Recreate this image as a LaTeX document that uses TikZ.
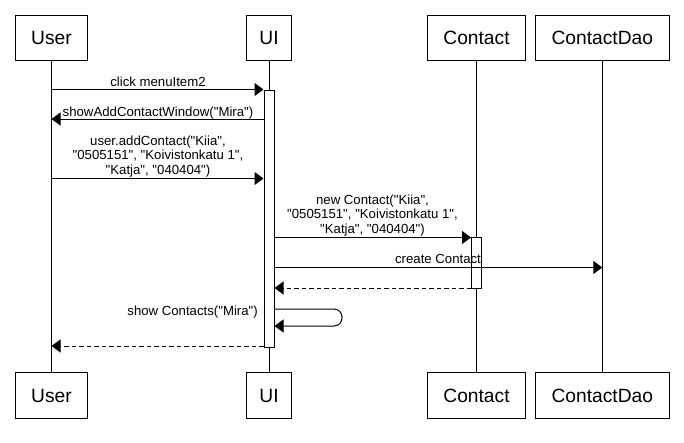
\documentclass[tikz,border=0pt]{standalone}
\usepackage{fontspec}
\setmainfont{Liberation Sans}[Ligatures=TeXOff]
\usetikzlibrary{arrows.meta}
\begin{document}
\begin{tikzpicture}[x=1pt,y=-1pt,
  lifebox/.style={draw=black, line width=1pt, fill=white, minimum height=45.5pt,
    inner sep=0pt, font=\fontsize{19.2}{23}\selectfont},
  lifeline/.style={line width=1pt},
  actbox/.style={draw=black, line width=1pt, fill=white, minimum width=10pt,
    inner sep=0pt, anchor=north},
  msg/.style={line width=1pt, -{Triangle[length=9pt,width=13pt]}},
  reply/.style={msg, dash pattern=on 4.5pt off 3pt},
  lbl/.style={font=\fontsize{13.2}{14.7}\selectfont, inner sep=0pt, align=center}
]
\useasboundingbox (0,0) rectangle (684,442);

% participant heads
\node[lifebox, minimum width=71.6pt] (uT) at (51.5,37.9) {User};
\node[lifebox, minimum width=45pt]   (iT) at (269,37.9) {UI};
\node[lifebox, minimum width=98.4pt] (cT) at (476.5,37.9) {Contact};
\node[lifebox, minimum width=134pt]  (dT) at (602.3,37.9) {ContactDao};

% participant feet
\node[lifebox, minimum width=71.6pt] (uB) at (51.5,395.5) {User};
\node[lifebox, minimum width=45pt]   (iB) at (269,395.5) {UI};
\node[lifebox, minimum width=98.4pt] (cB) at (476.5,395.5) {Contact};
\node[lifebox, minimum width=134pt]  (dB) at (602.3,395.5) {ContactDao};

% lifelines
\draw[lifeline] (uT) -- (uB);
\draw[lifeline] (iT) -- (iB);
\draw[lifeline] (cT) -- (cB);
\draw[lifeline] (dT) -- (dB);

% activation bars
\node[actbox, minimum height=257pt] (a1) at (iT.south |- 0,90) {};
\node[actbox, minimum height=51pt]  (a2) at (cT.south |- 0,237) {};

% messages
\draw[msg] (uT.south |- 0,89.5) -- (a1.west |- 0,89.5);
\node[lbl, anchor=base] (l1) at (158,86) {click menuItem2};

\draw[msg] (a1.west |- 0,119) -- (uT.south |- 0,119);
\node[lbl, anchor=base] (l2) at (158,116) {showAddContactWindow("Mira")};

\draw[msg] (uT.south |- 0,178.5) -- (a1.west |- 0,178.5);
\node[lbl, anchor=south] (l3) at (158,177.5)
  {user.addContact("Kiia",\\"0505151", "Koivistonkatu 1",\\"Katja", "040404")};

\draw[msg] (a1.east |- 0,237.5) -- (a2.west |- 0,237.5);
\node[lbl, anchor=south] (l4) at (372.5,236.5)
  {new Contact("Kiia",\\"0505151", "Koivistonkatu 1",\\"Katja", "040404")};

\draw[msg] (a1.east |- 0,267.5) -- (dT.south |- 0,267.5);
\node[lbl, anchor=base] (l5) at (438,263) {create Contact};

\draw[reply] (a2.west |- 0,288) -- (a1.east |- 0,288);

\draw[msg, rounded corners=8pt] (a1.east |- 0,309) -| (342,326) -- (a1.east |- 0,326);
\node[lbl, anchor=base east] (l6) at (258,315) {show Contacts("Mira")};

\draw[reply] (a1.west |- 0,346) -- (uT.south |- 0,346);
\end{tikzpicture}
\end{document}
